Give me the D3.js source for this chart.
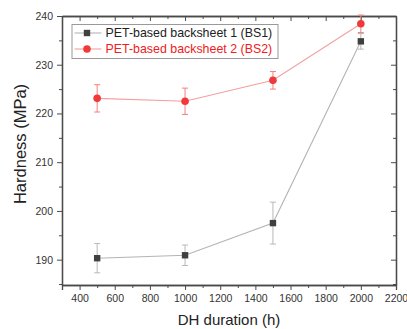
<!DOCTYPE html>
<html>
<head>
<meta charset="utf-8">
<script src="https://cdn.jsdelivr.net/npm/d3@7"></script>
<style>
  body { margin: 0; background: #fff; }
  svg text { font-family: "Liberation Sans", Arial, sans-serif; }
</style>
</head>
<body>
<svg class="chart"></svg>
<script>
// data
var durations = [500, 1000, 1500, 2000];
var bs1Values = [190.3, 190.9, 197.5, 234.8];
var bs1Errors = [3.0, 2.1, 4.3, 1.6];
var bs2Values = [223.1, 222.5, 226.8, 238.4];
var bs2Errors = [2.8, 2.7, 1.8, 1.8];
var seriesNames = ["PET-based backsheet 1 (BS1)", "PET-based backsheet 2 (BS2)"];
var xTicks = [400, 600, 800, 1000, 1200, 1400, 1600, 1800, 2000, 2200];
var yTicks = [190, 200, 210, 220, 230, 240];

var W = 407, H = 329;
var margin = {top: 16, right: 11, bottom: 44, left: 62},
    width = W - margin.left - margin.right,
    height = H - margin.top - margin.bottom;

var svg = d3.select(".chart")
    .attr("width", W)
    .attr("height", H)
    .append("g")
    .attr("transform", "translate(" + margin.left + "," + margin.top + ")");

var x = d3.scaleLinear().domain([300, 2200]).range([0, width]);
var y = d3.scaleLinear().domain([184.8, 240]).range([height, 0]);

var axisColor = "#4a4a4a";
var fmt = d3.format("d");

// minor ticks
var xMinor = d3.range(300, 2201, 100).filter(function(v) { return xTicks.indexOf(v) < 0; });
var yMinor = d3.range(185, 241, 5).filter(function(v) { return yTicks.indexOf(v) < 0; });

function styleAxis(g) {
    g.selectAll("path.domain").attr("stroke", axisColor).attr("stroke-width", 1.3);
    g.selectAll(".tick line").attr("stroke", axisColor).attr("stroke-width", 1);
    g.selectAll(".tick text").attr("fill", "#333").style("font-size", "10.5px");
}

// bottom
svg.append("g").attr("transform", "translate(0," + height + ")")
    .call(d3.axisBottom(x).tickValues(xTicks).tickFormat(fmt).tickSizeOuter(0).tickSize(5).tickPadding(5))
    .call(styleAxis);
svg.append("g").attr("transform", "translate(0," + height + ")")
    .call(d3.axisBottom(x).tickValues(xMinor).tickSize(3).tickFormat("").tickSizeOuter(0))
    .call(styleAxis);
// top
svg.append("g")
    .call(d3.axisTop(x).tickValues(xTicks).tickSize(-5).tickFormat("").tickSizeOuter(0))
    .call(styleAxis);
svg.append("g")
    .call(d3.axisTop(x).tickValues(xMinor).tickSize(-3).tickFormat("").tickSizeOuter(0))
    .call(styleAxis);
// left
svg.append("g")
    .call(d3.axisLeft(y).tickValues(yTicks).tickFormat(fmt).tickSize(5).tickPadding(4).tickSizeOuter(0))
    .call(styleAxis);
svg.append("g")
    .call(d3.axisLeft(y).tickValues(yMinor).tickSize(3).tickFormat("").tickSizeOuter(0))
    .call(styleAxis);
// right
svg.append("g").attr("transform", "translate(" + width + ",0)")
    .call(d3.axisRight(y).tickValues(yTicks).tickSize(-5).tickFormat("").tickSizeOuter(0))
    .call(styleAxis);
svg.append("g").attr("transform", "translate(" + width + ",0)")
    .call(d3.axisRight(y).tickValues(yMinor).tickSize(-3).tickFormat("").tickSizeOuter(0))
    .call(styleAxis);

var series = [
    {name: seriesNames[0], values: bs1Values, errors: bs1Errors, marker: "square",
     markerColor: "#404040", lineColor: "#b4b4b4", errColor: "#b8b8b8", textColor: "#222"},
    {name: seriesNames[1], values: bs2Values, errors: bs2Errors, marker: "circle",
     markerColor: "#f03a3a", lineColor: "#f2a0a0", errColor: "#f08080", textColor: "#f02020"}
];

var line = d3.line()
    .x(function(d) { return x(d[0]); })
    .y(function(d) { return y(d[1]); });

function drawMarker(g, s, cx, cy) {
    if (s.marker === "square") {
        g.append("rect").attr("x", cx - 3.2).attr("y", cy - 3.2)
            .attr("width", 6.4).attr("height", 6.4).attr("fill", s.markerColor);
    } else {
        g.append("circle").attr("cx", cx).attr("cy", cy).attr("r", 3.8)
            .attr("fill", s.markerColor);
    }
}

// BS1 first, BS2 on top
series.forEach(function(s) {
    var pts = durations.map(function(d, i) { return [d, s.values[i], s.errors[i]]; });
    var g = svg.append("g");
    g.append("path").datum(pts)
        .attr("fill", "none").attr("stroke", s.lineColor).attr("stroke-width", 1.1)
        .attr("d", line);
    pts.forEach(function(p) {
        var cx = x(p[0]);
        var top = y(p[1] + p[2]), bot = y(p[1] - p[2]);
        g.append("line").attr("x1", cx).attr("x2", cx).attr("y1", top).attr("y2", bot)
            .attr("stroke", s.errColor).attr("stroke-width", 1);
        [top, bot].forEach(function(yy) {
            g.append("line").attr("x1", cx - 3).attr("x2", cx + 3).attr("y1", yy).attr("y2", yy)
                .attr("stroke", s.errColor).attr("stroke-width", 1);
        });
        drawMarker(g, s, cx, y(p[1]));
    });
});

// legend
var legend = svg.append("g").attr("transform", "translate(" + (72 - margin.left) + "," + (24.5 - margin.top) + ")");
legend.append("rect").attr("width", 206).attr("height", 34)
    .attr("fill", "#fff").attr("stroke", "#999").attr("stroke-width", 1);
series.forEach(function(s, i) {
    var ly = 8.5 + i * 16;
    var lg = legend.append("g");
    lg.append("line").attr("x1", 2.5).attr("x2", 29.5).attr("y1", ly).attr("y2", ly)
        .attr("stroke", s.lineColor).attr("stroke-width", 1.1);
    drawMarker(lg, s, 15, ly);
    lg.append("text").attr("x", 33.5).attr("y", ly).attr("dy", "0.35em")
        .attr("fill", s.textColor).style("font-size", "12.4px").text(s.name);
});

// axis titles
svg.append("text")
    .attr("transform", "translate(" + (20 - margin.left) + "," + (144 - margin.top) + ") rotate(-90)")
    .attr("text-anchor", "middle").attr("dy", "0.35em")
    .attr("fill", "#222").style("font-size", "16.5px")
    .text("Hardness (MPa)");
svg.append("text")
    .attr("x", width / 2).attr("y", H - margin.top - 4)
    .attr("text-anchor", "middle")
    .attr("fill", "#222").style("font-size", "15px")
    .text("DH duration (h)");
</script>
</body>
</html>
